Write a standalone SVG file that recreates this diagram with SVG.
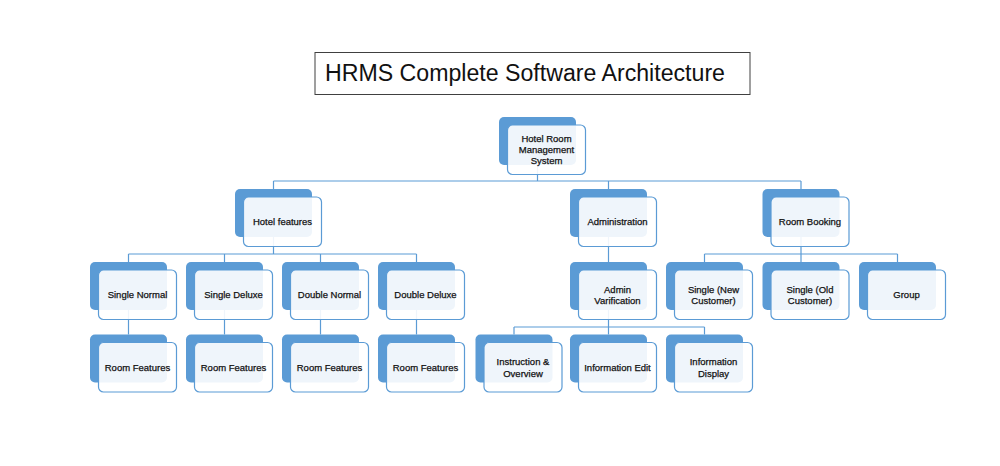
<svg xmlns="http://www.w3.org/2000/svg" width="1000" height="466" viewBox="0 0 1000 466">
<style>
.bk{fill:#5b9bd5}
.fr{fill:#ffffff;fill-opacity:0.9;stroke:#5b9bd5;stroke-width:1.2}
.lb{font-family:"Liberation Sans",Arial,sans-serif;font-size:9.5px;fill:#111;stroke:#111;stroke-width:0.25;text-anchor:middle}
.cn{fill:none;stroke:#5b9bd5;stroke-width:1.2}
</style>
<defs>
<g id="nb">
<rect class="bk" x="0" y="0" width="77" height="48" rx="5"/>
<rect class="fr" x="8.5" y="8" width="78" height="49.5" rx="5"/>
</g>
</defs>
<rect width="1000" height="466" fill="#ffffff"/>
<g id="title">
<rect x="315" y="52.5" width="435" height="42" fill="#ffffff" stroke="#404040" stroke-width="1"/>
<text x="325" y="80.5" font-family="'Liberation Sans',Arial,sans-serif" font-size="23" fill="#111" textLength="400" lengthAdjust="spacingAndGlyphs">HRMS Complete Software Architecture</text>
</g>
<g id="connectors">
<path class="cn" d="M537.5 165V181M273.5 181H801M273.5 181V189M608.5 181V189M801 181V189"/>
<path class="cn" d="M273.5 237V254M128.5 254H416.5M128.5 254V262M224.5 254V262M320.5 254V262M416.5 254V262"/>
<path class="cn" d="M608.5 237V262"/>
<path class="cn" d="M801 237V254M704.5 254H897.5M704.5 254V262M801 254V262M897.5 254V262"/>
<path class="cn" d="M128.5 310V334.5M224.5 310V334.5M320.5 310V334.5M416.5 310V334.5"/>
<path class="cn" d="M608.5 310V327M514 327H704.5M514 327V334.5M608.5 327V334.5M704.5 327V334.5"/>
</g>
<g id="n-hrms" transform="translate(499,117)"><use href="#nb"/><text class="lb" x="47.5" y="24.6">Hotel Room</text><text class="lb" x="47.5" y="35.6">Management</text><text class="lb" x="47.5" y="46.6">System</text></g>
<g id="n-hotel-features" transform="translate(235,189)"><use href="#nb"/><text class="lb" x="47.5" y="36">Hotel features</text></g>
<g id="n-administration" transform="translate(570,189)"><use href="#nb"/><text class="lb" x="47.5" y="36">Administration</text></g>
<g id="n-room-booking" transform="translate(762.5,189)"><use href="#nb"/><text class="lb" x="47.5" y="36">Room Booking</text></g>
<g id="n-single-normal" transform="translate(90,262)"><use href="#nb"/><text class="lb" x="47.5" y="36">Single Normal</text></g>
<g id="n-single-deluxe" transform="translate(186,262)"><use href="#nb"/><text class="lb" x="47.5" y="36">Single Deluxe</text></g>
<g id="n-double-normal" transform="translate(282,262)"><use href="#nb"/><text class="lb" x="47.5" y="36">Double Normal</text></g>
<g id="n-double-deluxe" transform="translate(378,262)"><use href="#nb"/><text class="lb" x="47.5" y="36">Double Deluxe</text></g>
<g id="n-admin-varification" transform="translate(570,262)"><use href="#nb"/><text class="lb" x="47.5" y="30.5">Admin</text><text class="lb" x="47.5" y="42">Varification</text></g>
<g id="n-single-new" transform="translate(666,262)"><use href="#nb"/><text class="lb" x="47.5" y="30.5">Single (New</text><text class="lb" x="47.5" y="42">Customer)</text></g>
<g id="n-single-old" transform="translate(762.5,262)"><use href="#nb"/><text class="lb" x="47.5" y="30.5">Single (Old</text><text class="lb" x="47.5" y="42">Customer)</text></g>
<g id="n-group" transform="translate(859,262)"><use href="#nb"/><text class="lb" x="47.5" y="36">Group</text></g>
<g id="n-room-features-1" transform="translate(90,334.5)"><use href="#nb"/><text class="lb" x="47.5" y="36">Room Features</text></g>
<g id="n-room-features-2" transform="translate(186,334.5)"><use href="#nb"/><text class="lb" x="47.5" y="36">Room Features</text></g>
<g id="n-room-features-3" transform="translate(282,334.5)"><use href="#nb"/><text class="lb" x="47.5" y="36">Room Features</text></g>
<g id="n-room-features-4" transform="translate(378,334.5)"><use href="#nb"/><text class="lb" x="47.5" y="36">Room Features</text></g>
<g id="n-instruction-overview" transform="translate(475.5,334.5)"><use href="#nb"/><text class="lb" x="47.5" y="30.5">Instruction &amp;</text><text class="lb" x="47.5" y="42">Overview</text></g>
<g id="n-information-edit" transform="translate(570,334.5)"><use href="#nb"/><text class="lb" x="47.5" y="36">Information Edit</text></g>
<g id="n-information-display" transform="translate(666,334.5)"><use href="#nb"/><text class="lb" x="47.5" y="30.5">Information</text><text class="lb" x="47.5" y="42">Display</text></g>
</svg>
